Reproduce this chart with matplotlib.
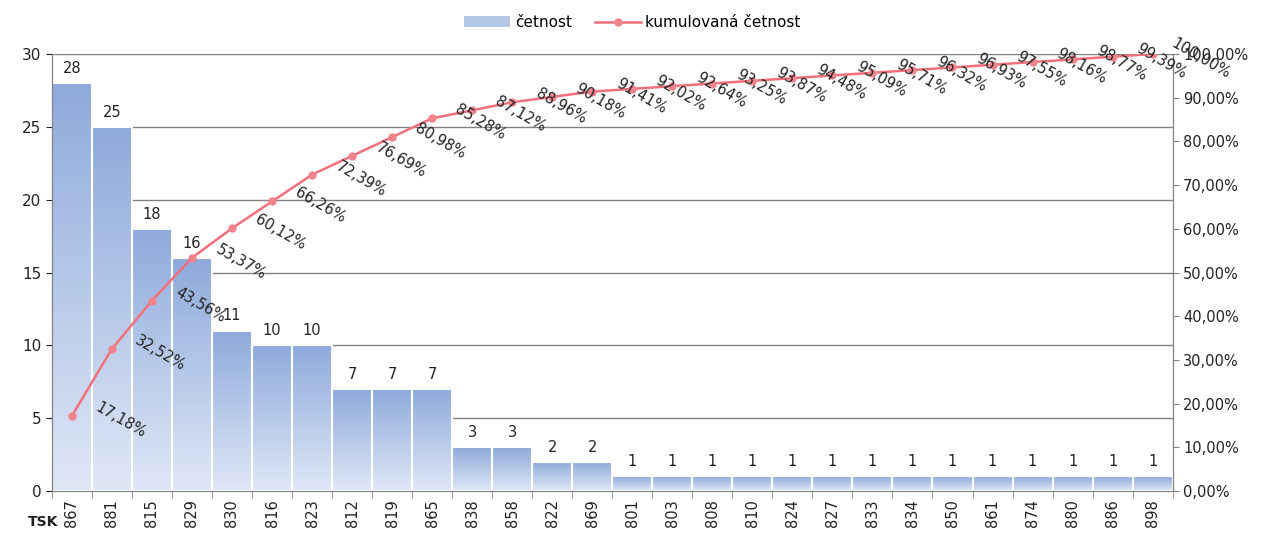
import numpy as np
import matplotlib
matplotlib.use("Agg")
import matplotlib.pyplot as plt
from matplotlib.colors import LinearSegmentedColormap
from matplotlib.patches import Rectangle
from matplotlib.lines import Line2D

# data
kategorie = ["867", "881", "815", "829", "830", "816", "823", "812", "819", "865",
             "838", "858", "822", "869", "801", "803", "808", "810", "824", "827",
             "833", "834", "850", "861", "874", "880", "886", "898"]
cetnost = [28, 25, 18, 16, 11, 10, 10, 7, 7, 7, 3, 3, 2, 2,
           1, 1, 1, 1, 1, 1, 1, 1, 1, 1, 1, 1, 1, 1]
kumulace = [17.18, 32.52, 43.56, 53.37, 60.12, 66.26, 72.39, 76.69, 80.98, 85.28,
            87.12, 88.96, 90.18, 91.41, 92.02, 92.64, 93.25, 93.87, 94.48, 95.09,
            95.71, 96.32, 96.93, 97.55, 98.16, 98.77, 99.39, 100.00]

plt.rcParams['font.family'] = ['DejaVu Sans']
txt = '#222222'
grid_c = '#808080'

fig = plt.figure(figsize=(12.65, 5.37), dpi=100)
ax = fig.add_axes([0.041, 0.0857, 0.886, 0.8137])
ax2 = ax.twinx()

x = np.arange(len(kategorie))
cmap = LinearSegmentedColormap.from_list("grad", ["#dfe7f6", "#8eaadb"])
grad = np.linspace(0, 1, 100).reshape(-1, 1)

for xi, v in zip(x, cetnost):
    ax.imshow(grad, cmap=cmap, origin='lower', aspect='auto',
              extent=[xi - 0.5, xi + 0.5, 0, v], zorder=2, interpolation='bilinear')
    ax.add_patch(Rectangle((xi - 0.5, 0), 1, v, facecolor='none',
                           edgecolor='white', linewidth=1.5, zorder=3))
    ax.text(xi, v + 0.5, str(v), ha='center', va='bottom', fontsize=10.5, color=txt, zorder=5)

ax.set_xlim(-0.5, len(kategorie) - 0.5)
ax.set_ylim(0, 30)
ax.set_yticks(range(0, 31, 5))
ax.yaxis.grid(True, color=grid_c, linewidth=1)
ax.set_axisbelow(True)
ax.set_xticks(x)
ax.set_xticklabels(kategorie, rotation=90, fontsize=10.5, color=txt)
ax.set_xticks(np.arange(-0.5, len(kategorie), 1), minor=True)
ax.tick_params(axis='x', which='major', length=0, pad=6)
ax.tick_params(axis='x', which='minor', direction='out', length=5, color=grid_c)
ax.tick_params(axis='y', labelsize=11, colors=txt, direction='out', length=4)

for a in (ax, ax2):
    a.spines['top'].set_visible(False)
    a.spines['left'].set_color(grid_c)
    a.spines['right'].set_color(grid_c)
    a.spines['bottom'].set_color(grid_c)

ax2.plot(x, kumulace, color='#f2707c', linewidth=1.8, marker='o', markersize=5,
         markerfacecolor='#f3838d', markeredgecolor='#f3838d', zorder=4)
ax2.set_ylim(0, 100)
ax2.set_yticks(range(0, 101, 10))
ax2.set_yticklabels([f"{t:.2f}".replace('.', ',') + '%' for t in range(0, 101, 10)])
ax2.tick_params(axis='y', labelsize=10.5, colors=txt, direction='out', length=4, color=grid_c)

for xi, k in zip(x, kumulace):
    ax2.annotate(f"{k:.2f}".replace('.', ',') + '%', (xi, k), xytext=(35, -3),
                 textcoords='offset points', rotation=-30, rotation_mode='anchor',
                 ha='center', va='center', fontsize=10.5, color=txt, zorder=6,
                 annotation_clip=False)

fig.text(0.022, 0.028, "TSK", fontsize=10, fontweight='bold', color=txt,
         ha='left', va='center')

handles = [Rectangle((0, 0), 1, 1, facecolor='#b4c7e7', edgecolor='none'),
           Line2D([], [], color='#f2707c', linewidth=1.8, marker='o', markersize=5,
                  markerfacecolor='#f3838d', markeredgecolor='#f3838d')]
fig.legend(handles, ["četnost", "kumulovaná četnost"], loc='center',
           bbox_to_anchor=(0.5, 0.958), ncol=2, frameon=False, fontsize=11,
           handlelength=3, columnspacing=1.5, handletextpad=0.3)

fig.savefig("out.png", dpi=100)
